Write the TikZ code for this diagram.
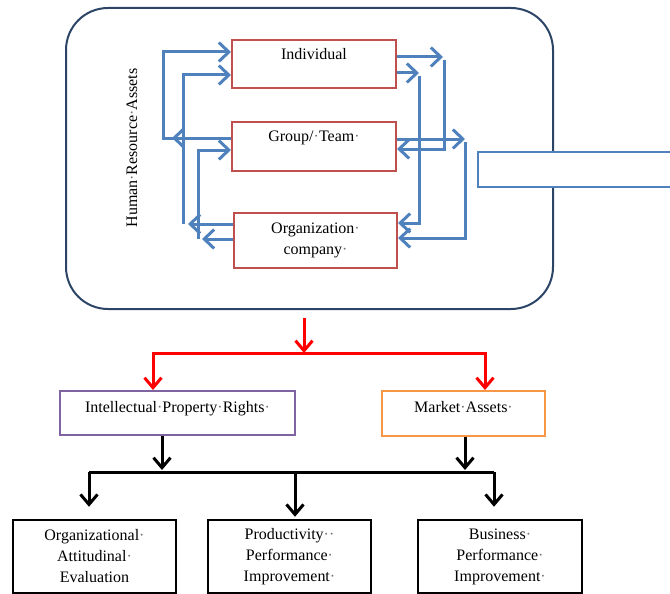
\documentclass[tikz,border=0pt]{standalone}
\usepackage{fontspec}
\setmainfont{Liberation Serif}
\usepackage{xcolor}
\usetikzlibrary{arrows.meta,positioning,calc}

\definecolor{hrnavy}{HTML}{2C4566}
\definecolor{flowblue}{HTML}{4F81BD}
\definecolor{unitred}{HTML}{C0504D}
\definecolor{iprpurple}{HTML}{8064A2}
\definecolor{mktorange}{HTML}{F79646}
\newcommand{\fmdot}{\textcolor{black!55}{·}}

\begin{document}
\begin{tikzpicture}[x=1pt, y=-1pt,
    every node/.style={font=\fontsize{16}{21}\selectfont},
    hrbox/.style={draw=hrnavy, line width=2pt, rounded corners=42pt, minimum width=487, minimum height=301},
    unitbox/.style={draw=unitred, line width=2pt, minimum width=164, minimum height=48},
    outbox/.style={draw=black, line width=2.5pt, minimum width=163, minimum height=73, align=center},
    boxtext/.style={anchor=base, inner sep=0pt},
    bluetip/.style={-{Straight Barb[length=10pt,width=19pt]}},
    blueline/.style={draw=flowblue, line width=3pt},
    redline/.style={draw=red, line width=3pt},
    blackline/.style={draw=black, line width=3pt},
    bartip/.style={-{Straight Barb[length=10pt,width=17pt]}},
    bothtips/.style={{Straight Barb[length=10pt,width=17pt]}-{Straight Barb[length=10pt,width=17pt]}}
]
    \clip (0,0) rectangle (670,594);

    % human resource assets
    \node[hrbox] (hr) at (309.5,158.5) {};
    \node[rotate=90] (hrlabel) at (132,148) {Human\fmdot Resource\fmdot Assets};
    \node[unitbox] (indiv) at (314,64) {};
    \node[unitbox, minimum height=49] (group) at (314,146.5) {};
    \node[unitbox, minimum width=163, minimum height=55, align=center] (org) at (315.5,240.5) {Organization\fmdot\\company\fmdot};
    \node[boxtext] at ([yshift=-21]indiv.north) {Individual};
    \node[boxtext] at ([yshift=-21]group.north) {Group/\fmdot Team\fmdot};
    \node[draw=flowblue, line width=1.5pt, fill=white, minimum width=222, minimum height=35] (side) at (589,169.5) {};

    % left side loops
    \draw[blueline, bluetip] ([yshift=8.5]group.west) -- (172,138);
    \draw[blueline, bluetip] ([yshift=8.5]group.west) -- (163,138) |- ([yshift=12]indiv.west);
    \draw[blueline, bluetip] ([yshift=16.5]org.west) -- (188,224);
    \draw[blueline, bluetip] (183,224) |- ([yshift=-11]indiv.west);
    \draw[blueline, bluetip] ([yshift=1.5]org.west) -- (202,239);
    \draw[blueline, bluetip] (198,239) |- ([yshift=-3.5]group.west);

    % right side loops
    \draw[blueline, bluetip] ([yshift=7]indiv.east) -- (443,57);
    \draw[blueline, bluetip] (444,60) |- ([yshift=-2.5]group.east);
    \draw[blueline, bluetip] ([yshift=-9]indiv.east) -- (419,73);
    \draw[blueline, bluetip] (419,76) |- ([yshift=17.5]org.east);
    \draw[blueline, bluetip] ([yshift=7.5]group.east) -- (465,139);
    \draw[blueline, bluetip] (465,142) |- ([yshift=2.5]org.east);

    % assets
    \node[draw=iprpurple, line width=2pt, minimum width=235, minimum height=44] (ipr) at (177.5,413) {};
    \node[boxtext] at ([yshift=-22]ipr.north) {Intellectual\fmdot Property\fmdot Rights\fmdot};
    \node[draw=mktorange, line width=2pt, minimum width=163, minimum height=45] (market) at (463.5,413.5) {};
    \node[boxtext] at ([yshift=-22]market.north) {Market\fmdot Assets\fmdot};

    \coordinate (split) at (304,353);
    \draw[redline, bartip] ([xshift=-5.5,yshift=-8]hr.south) -- (split);
    \draw[redline, bothtips] ([xshift=-24.5]ipr.north) |- (split) -| ([xshift=21.5]market.north);

    % outcomes
    \node[outbox] (attit) at (94.5,556.5) {Organizational\fmdot\\Attitudinal\fmdot\\Evaluation};
    \node[outbox] (prod) at (289.5,556.5) {Productivity\fmdot\fmdot\\Performance\fmdot\\Improvement\fmdot};
    \node[outbox, minimum width=164] (busi) at (500,556.5) {Business\fmdot\\Performance\fmdot\\Improvement\fmdot};

    \coordinate (busL) at (89,472);
    \coordinate (busR) at (494,472);
    \draw[blackline, bartip] ([xshift=-15.5]ipr.south) -- (162,470);
    \draw[blackline, bartip] ([xshift=1.5]market.south) -- (465,470);
    \draw[blackline] (busL) -- (busR);
    \draw[blackline, bartip] (busL) -- ([xshift=-5.5,yshift=12]attit.north);
    \draw[blackline, bartip] (295,472) -- ([xshift=5.5,yshift=2]prod.north);
    \draw[blackline, bartip] (busR) -- ([xshift=-6,yshift=12]busi.north);
\end{tikzpicture}
\end{document}
